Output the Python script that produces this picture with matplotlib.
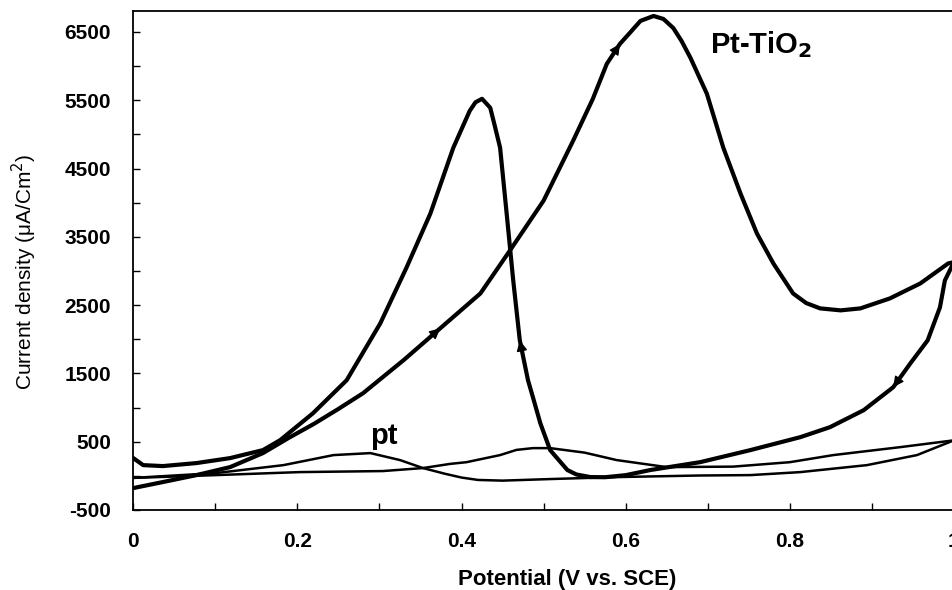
import matplotlib.pyplot as plt
from matplotlib.ticker import MultipleLocator

plt.rcParams['font.family'] = ['Liberation Sans', 'DejaVu Sans']
plt.rcParams['axes.unicode_minus'] = False

# Pt-TiO2, anodic sweep (0 -> 1 V)
tio2_fwd_x = [0.0, 0.036, 0.077, 0.118, 0.158, 0.19, 0.22, 0.25, 0.28, 0.33, 0.374,
              0.423, 0.459, 0.50, 0.536, 0.56, 0.577, 0.593, 0.605, 0.618, 0.634, 0.646,
              0.658, 0.668, 0.679, 0.699, 0.719, 0.74, 0.76, 0.78, 0.804, 0.82, 0.837, 0.862,
              0.886, 0.922, 0.959, 0.993, 1.0]
tio2_fwd_y = [-179, -91, 11, 128, 333, 560, 760, 980, 1210, 1700, 2160,
              2671, 3300, 4030, 4907, 5520, 6032, 6325, 6485, 6661, 6734, 6690,
              6558, 6370, 6120, 5594, 4805, 4132, 3548, 3110, 2671, 2530, 2452, 2423,
              2452, 2598, 2817, 3110, 3130]

# Pt-TiO2, cathodic sweep (1 -> 0 V)
tio2_rev_x = [1.0, 0.989, 0.983, 0.968, 0.947, 0.926, 0.89, 0.849, 0.813, 0.752,
              0.691, 0.63, 0.60, 0.575, 0.557, 0.54, 0.529, 0.508, 0.496, 0.487,
              0.481, 0.471, 0.463, 0.455, 0.447, 0.44, 0.435, 0.425, 0.417, 0.41, 0.39, 0.362,
              0.333, 0.301, 0.26, 0.219, 0.179, 0.158, 0.118, 0.077, 0.036, 0.012, 0.0]
tio2_rev_y = [3130, 2861, 2467, 1984, 1648, 1297, 961, 713, 567, 377,
              201, 85, 10, -20, -18, 20, 85, 377, 771, 1151,
              1400, 1984, 2861, 3840, 4805, 5150, 5389, 5521, 5470, 5345, 4805, 3840,
              3051, 2233, 1400, 917, 523, 377, 260, 187, 143, 157, 260]

# Pt, anodic sweep
pt_fwd_x = [0.0, 0.05, 0.101, 0.203, 0.304, 0.353, 0.386, 0.406, 0.447, 0.467,
            0.487, 0.508, 0.55, 0.589, 0.65, 0.731, 0.80, 0.853, 0.935, 1.0]
pt_fwd_y = [-30, -10, 11, 55, 70, 114, 175, 200, 304, 380,
            406, 406, 340, 231, 128, 135, 200, 304, 421, 520]

# Pt, cathodic sweep
pt_rev_x = [1.0, 0.955, 0.894, 0.813, 0.752, 0.69, 0.589, 0.508, 0.45, 0.42,
            0.40, 0.38, 0.353, 0.325, 0.289, 0.244, 0.183, 0.101, 0.0]
pt_rev_y = [520, 304, 157, 55, 11, 5, -18, -47, -70, -60,
            -25, 30, 114, 231, 333, 304, 157, 41, -30]

fig = plt.figure(figsize=(9.52, 5.90), dpi=100)
ax = fig.add_axes([0.14, 0.1356, 0.862, 0.845])

ax.plot(tio2_fwd_x, tio2_fwd_y, color='black', lw=3.0, solid_joinstyle='round')
ax.plot(tio2_rev_x, tio2_rev_y, color='black', lw=3.0, solid_joinstyle='round')
ax.plot(pt_fwd_x, pt_fwd_y, color='black', lw=1.8)
ax.plot(pt_rev_x, pt_rev_y, color='black', lw=1.8)


def arrow_on(xs, ys, i):
    ax.annotate('', xy=(xs[i], ys[i]), xytext=(xs[i - 1], ys[i - 1]),
                arrowprops=dict(arrowstyle='-|>', color='black', lw=1.0,
                                mutation_scale=16, shrinkA=0, shrinkB=0))


arrow_on(tio2_fwd_x, tio2_fwd_y, 10)
arrow_on(tio2_fwd_x, tio2_fwd_y, 17)
arrow_on(tio2_rev_x, tio2_rev_y, 21)
arrow_on(tio2_rev_x, tio2_rev_y, 5)

ax.text(0.703, 6320, 'Pt-TiO$_\\mathbf{2}$', fontsize=21, fontweight='bold',
        va='center', ha='left')
ax.text(0.288, 580, 'pt', fontsize=21, fontweight='bold', ha='left', va='center')

ax.set_xlim(0, 1)
ax.set_ylim(-500, 6800)
ax.set_xticks([0, 0.2, 0.4, 0.6, 0.8, 1.0])
ax.set_xticklabels(['0', '0.2', '0.4', '0.6', '0.8', '1'])
ax.xaxis.set_minor_locator(MultipleLocator(0.1))
ax.set_yticks([-500, 500, 1500, 2500, 3500, 4500, 5500, 6500])
ax.yaxis.set_minor_locator(MultipleLocator(1000))
ax.tick_params(which='both', direction='in', length=5, width=1)
ax.tick_params(axis='x', labelsize=15, pad=16)
ax.tick_params(axis='y', labelsize=15, pad=16)
for lab in ax.get_xticklabels() + ax.get_yticklabels():
    lab.set_fontweight('bold')

ax.spines['right'].set_visible(False)
for s in ['left', 'bottom', 'top']:
    ax.spines[s].set_linewidth(1.3)

ax.set_xlabel('Potential (V vs. SCE)', fontsize=16, fontweight='bold')
ax.set_ylabel('Current density (μA/Cm$^2$)', fontsize=15)
ax.xaxis.set_label_coords(0.529, -0.118)
ax.yaxis.set_label_coords(-0.115, 0.477)

fig.savefig('out.png', dpi=100)
